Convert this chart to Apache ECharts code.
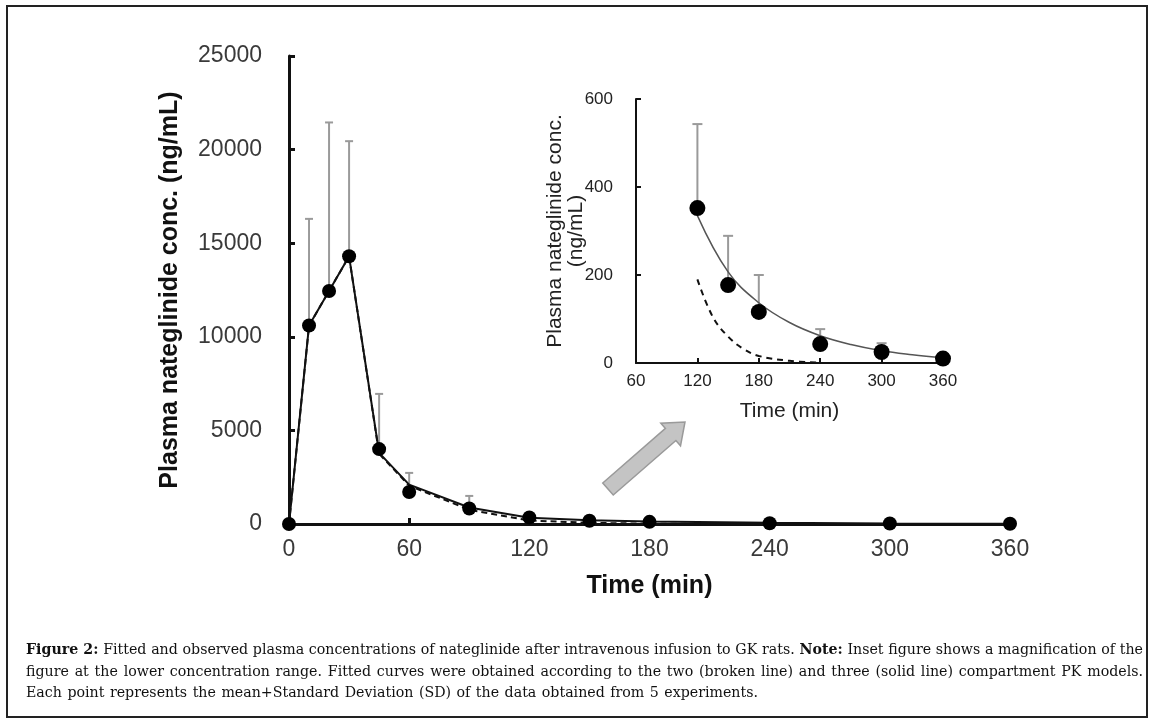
<!DOCTYPE html>
<html>
<head>
<meta charset="utf-8">
<script src="https://cdn.jsdelivr.net/npm/echarts@6/dist/echarts.min.js"></script>
<style>
  html, body { margin: 0; padding: 0; background: #fff; }
  #wrap { position: relative; width: 1155px; height: 727px; overflow: hidden; }
  #frame { position: absolute; left: 6px; top: 5px; width: 1142px; height: 713px; border: 2px solid #222; box-sizing: border-box; }
  #chart { position: absolute; left: 0; top: 0; width: 1155px; height: 727px; }
  #cap { position: absolute; left: 26px; top: 639px; width: 1117px; font-family: "DejaVu Serif", "Liberation Serif", serif; font-size: 14.2px; line-height: 21.5px; color: #111; }
  #cap div { white-space: nowrap; word-spacing: 1px; }
  #cap .j { text-align: justify; text-align-last: justify; white-space: normal; word-spacing: -1.5px; }
</style>
</head>
<body>
<div id="wrap">
  <div id="chart"></div>
  <div id="frame"></div>
  <div id="cap">
    <div class="j"><b>Figure 2:</b> Fitted and observed plasma concentrations of nateglinide after intravenous infusion to GK rats. <b>Note:</b> Inset figure shows a magnification of the</div>
    <div class="j">figure at the lower concentration range. Fitted curves were obtained according to the two (broken line) and three (solid line) compartment PK models.</div>
    <div>Each point represents the mean+Standard Deviation (SD) of the data obtained from 5 experiments.</div>
  </div>
</div>
<script>
// ---- data ----
const obsTime = [0, 10, 20, 30, 45, 60, 90, 120, 150, 180, 240, 300, 360];
const obsMean = [0, 10600, 12450, 14300, 4000, 1710, 830, 352, 177, 116, 43, 25, 10];
const obsSD   = [0, 5700, 9000, 6150, 2950, 1020, 670, 191, 112, 84, 34, 20, 3];

const fitTimeMain   = [0, 10, 20, 30, 45, 60, 90, 120, 150, 180, 240, 300, 360];
const threeCompMain = [0, 10600, 12450, 14300, 3800, 2100, 880, 335, 205, 135, 62, 28, 12];
const twoCompMain   = [0, 10600, 12450, 14300, 3750, 2050, 760, 190, 60, 17, 1, 0, 0];

const fitTimeInset3 = [120, 150, 180, 210, 240, 270, 300, 330, 360];
const threeCompInset = [335, 207, 137, 92, 62, 42, 28, 19, 12];
const fitTimeInset2 = [120, 135, 150, 165, 180, 210, 240];
const twoCompInset  = [190, 105, 60, 32, 16, 5, 1];

const mainXTicks = [0, 60, 120, 180, 240, 300, 360];
const mainYTicks = [0, 5000, 10000, 15000, 20000, 25000];
const insetXTicks = [60, 120, 180, 240, 300, 360];
const insetYTicks = [0, 200, 400, 600];

// ---- build ----
const pairs = (xs, ys) => xs.map((x, i) => [x, ys[i]]);
const insetStart = obsTime.indexOf(120);
const obsMain = obsTime.map((t, i) => [t, obsMean[i], obsSD[i]]);
const obsInset = obsMain.slice(insetStart);

const FONT = '"Liberation Sans", Arial, sans-serif';

function errorBars(capHalf, width) {
  return function (params, api) {
    const x = api.value(0), y = api.value(1), sd = api.value(2);
    if (!sd) return null;
    const p0 = api.coord([x, y]);
    const p1 = api.coord([x, y + sd]);
    const style = { stroke: '#9a9a9a', lineWidth: width };
    return {
      type: 'group',
      children: [
        { type: 'line', shape: { x1: p0[0], y1: p0[1], x2: p1[0], y2: p1[1] }, style },
        { type: 'line', shape: { x1: p1[0] - capHalf, y1: p1[1], x2: p1[0] + capHalf, y2: p1[1] }, style }
      ]
    };
  };
}

function axisCommon(lineW, fontSize, labelColor, margin, tickLen) {
  return {
    axisLine: { show: true, onZero: false, lineStyle: { color: '#111', width: lineW } },
    axisTick: { show: true, inside: true, length: tickLen, lineStyle: { color: '#111', width: lineW } },
    splitLine: { show: false },
    axisLabel: { fontFamily: FONT, fontSize: fontSize, color: labelColor, margin: margin, showMinLabel: true, showMaxLabel: true,
      formatter: v => String(v) },
    nameMoveOverlap: false
  };
}

const chart = echarts.init(document.getElementById('chart'), null, { renderer: 'canvas' });

// arrow geometry (decoration)
const T = [608, 489], P = [685, 422];
const dx = P[0] - T[0], dy = P[1] - T[1], L = Math.hypot(dx, dy);
const u = [dx / L, dy / L], n = [-u[1], u[0]];
const H = [P[0] - 19 * u[0], P[1] - 19 * u[1]];
const pt = (b, k) => [b[0] + k * n[0], b[1] + k * n[1]];
const arrowPts = [pt(T, 8), pt(H, 8), pt(H, 15), P, pt(H, -15), pt(H, -8), pt(T, -8)];

chart.setOption({
  animation: false,
  backgroundColor: '#fff',
  grid: [
    { left: 289, right: 145, top: 56, bottom: 203, outerBoundsMode: 'none', containLabel: false },
    { left: 636, right: 212, top: 99, bottom: 364, outerBoundsMode: 'none', containLabel: false }
  ],
  xAxis: [
    Object.assign(axisCommon(3, 23, '#3a3a3a', 14, 6), {
      type: 'value', gridIndex: 0, min: 0, max: 360, interval: 60,
      name: 'Time (min)', nameLocation: 'middle', nameGap: 50,
      nameTextStyle: { fontFamily: FONT, fontSize: 25, fontWeight: 'bold', color: '#111' }
    }),
    Object.assign(axisCommon(2, 17, '#222', 10, 5), {
      type: 'value', gridIndex: 1, min: 60, max: 360, interval: 60,
      name: 'Time (min)', nameLocation: 'middle', nameGap: 38,
      nameTextStyle: { fontFamily: FONT, fontSize: 21, color: '#222' }
    })
  ],
  yAxis: [
    Object.assign(axisCommon(3, 23, '#3a3a3a', 27, 6), {
      type: 'value', gridIndex: 0, min: 0, max: 25000, interval: 5000,
      name: 'Plasma nateglinide conc. (ng/mL)', nameLocation: 'middle', nameGap: 106,
      nameTextStyle: { fontFamily: FONT, fontSize: 25, fontWeight: 'bold', color: '#111' }
    }),
    Object.assign(axisCommon(2, 17, '#222', 23, 5), {
      type: 'value', gridIndex: 1, min: 0, max: 600, interval: 200,
      name: 'Plasma nateglinide conc.\n(ng/mL)', nameLocation: 'middle', nameGap: 49,
      nameTextStyle: { fontFamily: FONT, fontSize: 21, color: '#222', lineHeight: 21 }
    })
  ],
  series: [
    { type: 'line', xAxisIndex: 0, yAxisIndex: 0, data: pairs(fitTimeMain, twoCompMain), symbol: 'none',
      lineStyle: { color: '#111', width: 2, type: [6, 4] }, z: 2 },
    { type: 'line', xAxisIndex: 0, yAxisIndex: 0, data: pairs(fitTimeMain, threeCompMain), symbol: 'none',
      lineStyle: { color: '#111', width: 2 }, z: 2 },
    { type: 'custom', xAxisIndex: 0, yAxisIndex: 0, data: obsMain, renderItem: errorBars(4, 2), z: 1,
      encode: { x: 0, y: [1, 2] } },
    { type: 'scatter', xAxisIndex: 0, yAxisIndex: 0, data: obsMain.map(d => [d[0], d[1]]), symbol: 'circle', symbolSize: 14,
      itemStyle: { color: '#000', opacity: 1 }, z: 5 },

    { type: 'line', xAxisIndex: 1, yAxisIndex: 1, data: pairs(fitTimeInset2, twoCompInset), symbol: 'none', smooth: 0.4,
      lineStyle: { color: '#111', width: 2, type: [6, 5] }, z: 2 },
    { type: 'line', xAxisIndex: 1, yAxisIndex: 1, data: pairs(fitTimeInset3, threeCompInset), symbol: 'none', smooth: 0.4,
      lineStyle: { color: '#555', width: 1.5 }, z: 2 },
    { type: 'custom', xAxisIndex: 1, yAxisIndex: 1, data: obsInset, renderItem: errorBars(5, 2), z: 1,
      encode: { x: 0, y: [1, 2] } },
    { type: 'scatter', xAxisIndex: 1, yAxisIndex: 1, data: obsInset.map(d => [d[0], d[1]]), symbol: 'circle', symbolSize: 16,
      itemStyle: { color: '#000', opacity: 1 }, z: 5 }
  ],
  graphic: [
    { type: 'polygon', shape: { points: arrowPts }, style: { fill: '#c4c4c4', stroke: '#9a9a9a', lineWidth: 1.5 }, z: 10 }
  ]
});
</script>
</body>
</html>
